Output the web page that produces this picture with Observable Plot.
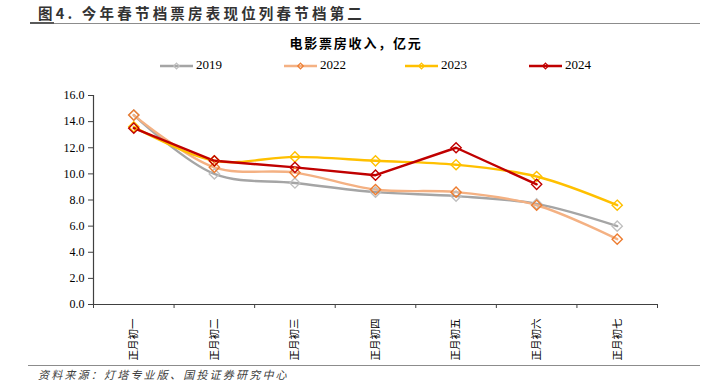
<!DOCTYPE html>
<html><head><meta charset="utf-8">
<script src="https://cdn.jsdelivr.net/npm/d3@7"></script>
<script src="https://cdn.jsdelivr.net/npm/@observablehq/plot@0.6"></script>
<style>
body{margin:0;background:#fff;}
#wrap{position:relative;width:708px;height:383px;overflow:hidden;font-family:"Noto Sans CJK SC",sans-serif;}
.abs{position:absolute;white-space:nowrap;}
</style></head><body>
<div id="wrap"></div>
<script>
const days = ["正月初一","正月初二","正月初三","正月初四","正月初五","正月初六","正月初七"];
const years = ["2019","2022","2023","2024"];
const v2019 = [14.5, 10.0, 9.3, 8.6, 8.3, 7.7, 6.0];
const v2022 = [14.5, 10.5, 10.1, 8.8, 8.6, 7.6, 5.0];
const v2023 = [13.6, 11.0, 11.3, 11.0, 10.7, 9.8, 7.6];
const v2024 = [13.5, 11.0, 10.5, 9.9, 12.0, 9.2];
const yTicks = [0,2,4,6,8,10,12,14,16];

const lineColor = {"2019":"#A5A5A5","2022":"#F4B183","2023":"#FFC000","2024":"#C00000"};
const markColor = {"2019":"#BFBFBF","2022":"#ED7D31","2023":"#FFC000","2024":"#C00000"};
const curve = {"2019":"catmull-rom","2022":"catmull-rom","2023":"catmull-rom","2024":"linear"};
const series = {"2019":v2019,"2022":v2022,"2023":v2023,"2024":v2024};
const rows = years.map(y => series[y].map((v,i)=>({year:y,i,v})));

const idx = days.map((d,i)=>i);
const bounds = d3.range(days.length+1).map(k=>k-0.5);
const axisColor = "#404040";

const marks = [
  Plot.axisY({ticks:yTicks, tickFormat:d=>d.toFixed(1), tickSize:5, tickPadding:4, stroke:axisColor, color:"#000", fontSize:12, fontFamily:"Liberation Serif", label:null}),
  Plot.axisX({ticks:bounds, tickFormat:()=>"", tickSize:4, stroke:axisColor, label:null}),
  Plot.axisX({ticks:idx, tickFormat:i=>days[i], tickSize:0, tickRotate:-90, tickPadding:14, fontSize:10.5, fill:"#000", fontFamily:"Noto Sans CJK SC", label:null}),
  Plot.ruleY([0], {stroke:axisColor, strokeWidth:1.2}),
  Plot.ruleX([bounds[0]], {y1:0, y2:16, stroke:axisColor, strokeWidth:1.2}),
];
rows.forEach(r=>{
  const y = r[0].year;
  marks.push(Plot.line(r,{x:"i",y:"v",stroke:lineColor[y],strokeWidth:2.4,curve:curve[y]}));
});
rows.forEach(r=>{
  const y = r[0].year;
  marks.push(Plot.dot(r,{x:"i",y:"v",symbol:"diamond2",r:4.6,stroke:markColor[y],strokeWidth:1.4,fill:"none"}));
});

const chart = Plot.plot({
  width:708, height:383,
  marginTop:95, marginBottom:79, marginLeft:93, marginRight:51,
  x:{type:"linear", domain:[-0.5, days.length-0.5]},
  y:{domain:[0,16]},
  style:{background:"transparent", overflow:"visible"},
  marks
});
const wrap = document.getElementById("wrap");
chart.style.position="absolute"; chart.style.left="0"; chart.style.top="0";
wrap.appendChild(chart);

function add(html, css){const d=document.createElement("div");d.className="abs";d.innerHTML=html;Object.assign(d.style,css);wrap.appendChild(d);return d;}
add("图4. 今年春节档票房表现位列春节档第二",{left:"38px",top:"2px",fontSize:"14.5px",fontWeight:"bold",color:"#333",letterSpacing:"3.2px"});
add("",{left:"30px",top:"23px",width:"670px",height:"0",borderTop:"1.5px solid #8C8C8C"});
add("",{left:"30px",top:"22px",width:"24px",height:"0",borderTop:"2.5px solid #595959"});
add("电影票房收入，亿元",{left:"0",width:"712px",textAlign:"center",top:"33px",fontSize:"13px",fontWeight:"bold",color:"#000",letterSpacing:"1.8px"});
// legend
const legX = {"2019":160,"2022":284,"2023":405,"2024":529};
years.forEach(y=>{
  const x = legX[y];
  add(`<svg width="34" height="10"><line x1="0" y1="5" x2="33" y2="5" stroke="${lineColor[y]}" stroke-width="2.4"/><path d="M16.5 2.2 L19.3 5 L16.5 7.8 L13.7 5 Z" fill="none" stroke="${markColor[y]}" stroke-width="1.2"/></svg>`,{left:x+"px",top:"61px",lineHeight:"0"});
  add(y,{left:(x+36)+"px",top:"57px",fontSize:"13px",fontFamily:"Liberation Serif",color:"#000"});
});
add("",{left:"28px",top:"365px",width:"672px",height:"0",borderTop:"1.2px solid #8C8C8C"});
add("资料来源：灯塔专业版、国投证券研究中心",{left:"38px",top:"366px",fontSize:"11px",fontStyle:"italic",color:"#404040",letterSpacing:"2.2px"});
</script>
</body></html>
